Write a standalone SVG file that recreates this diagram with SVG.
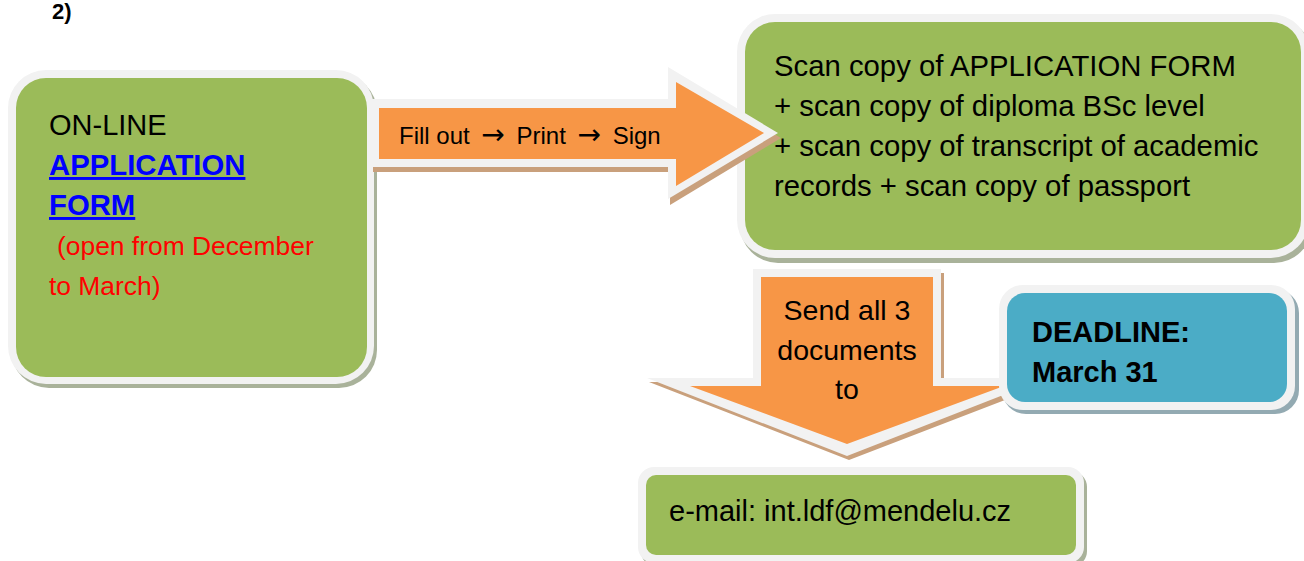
<svg xmlns="http://www.w3.org/2000/svg" width="1304" height="561" viewBox="0 0 1304 561">
<style>
text{font-family:"Liberation Sans",Arial,sans-serif;font-size:29px;fill:#000}
.rim{fill:#f2f2f2}
.green{fill:#9bbb59}
.orange{fill:#f79646}
.blue{fill:#4bacc6}
.shg{fill:#a9b29a}
.shb{fill:#93aab2}
.sho{fill:#c9a07c}
.b{font-weight:bold}
.red{fill:#ff0000;font-size:26.4px}
.link{fill:#0000ff;font-weight:bold;text-decoration:underline;font-size:29.3px}
.arr{font-family:"DejaVu Sans",sans-serif;font-size:28px}
</style>
<rect width="1304" height="561" fill="#fff"/>
<text x="52" y="19" class="b" style="font-size:22px">2)</text>

<g id="node-documents">
<rect class="shg" x="740" y="18" width="572" height="245" rx="38"/>
<rect class="rim" x="737" y="14" width="572" height="244" rx="38"/>
<rect class="green" x="745" y="22" width="556" height="228" rx="30"/>
<text x="774" y="76" style="font-size:29.3px">Scan copy of APPLICATION FORM</text>
<text x="774" y="116" style="font-size:29.3px">+ scan copy of diploma BSc level</text>
<text x="774" y="156" style="font-size:29.3px">+ scan copy of transcript of academic</text>
<text x="774" y="196" style="font-size:29.3px">records + scan copy of passport</text>
</g>

<g id="node-online-form">
<rect class="shg" x="11" y="74" width="366" height="314" rx="38"/>
<rect class="rim" x="8" y="70" width="366" height="314" rx="38"/>
<rect class="green" x="16" y="78" width="351" height="299" rx="30"/>
<text x="49" y="135">ON-LINE</text>
<text x="49" y="175" class="link">APPLICATION</text>
<text x="49" y="215" class="link">FORM</text>
<text x="57" y="255" class="red">(open from December</text>
<text x="49" y="295" class="red">to March)</text>
</g>

<g id="connectors">
<g id="arrow-fill-print-sign">
<polygon class="sho" points="373,104 670,104 670,72 781,138 670,205 670,172 373,172"/>
<polygon class="rim" points="370,99 668,99 668,67 778,133 668,199 668,167 370,167"/>
<polygon class="orange" points="379,108 676,108 676,82 764,133 676,186 676,159 379,159"/>
<text x="399" y="144" style="font-size:24px">Fill out <tspan dx="5" class="arr">→</tspan><tspan dx="5"> Print </tspan><tspan dx="5" class="arr">→</tspan><tspan dx="5"> Sign</tspan></text>
</g>
<g id="arrow-send">
<polygon class="sho" points="756,273 944,273 944,382 1052,382 849,460 649,382 756,382"/>
<polygon class="rim" points="753,269 941,269 941,378 1047,378 847,456 647,378 753,378"/>
<polygon class="orange" points="761,277 933,277 933,386 1004,386 847,444 690,386 761,386"/>
<text x="847" y="320" text-anchor="middle" style="font-size:28.5px">Send all 3</text>
<text x="847" y="360" text-anchor="middle" style="font-size:28.5px">documents</text>
<text x="847" y="399" text-anchor="middle" style="font-size:28.5px">to</text>
</g>
</g>

<g id="node-deadline">
<rect class="shb" x="1002" y="289" width="297" height="125" rx="24"/>
<rect class="rim" x="999" y="285" width="296" height="125" rx="24"/>
<rect class="blue" x="1007" y="293" width="280" height="109" rx="18"/>
<text x="1032" y="342" class="b">DEADLINE:</text>
<text x="1032" y="382" class="b">March 31</text>
</g>

<g id="node-email">
<rect class="shg" x="641" y="471" width="446" height="96" rx="16"/>
<rect class="rim" x="638" y="467" width="446" height="96" rx="16"/>
<rect class="green" x="646" y="475" width="430" height="80" rx="10"/>
<text x="669" y="521">e-mail: int.ldf@mendelu.cz</text>
</g>
</svg>
